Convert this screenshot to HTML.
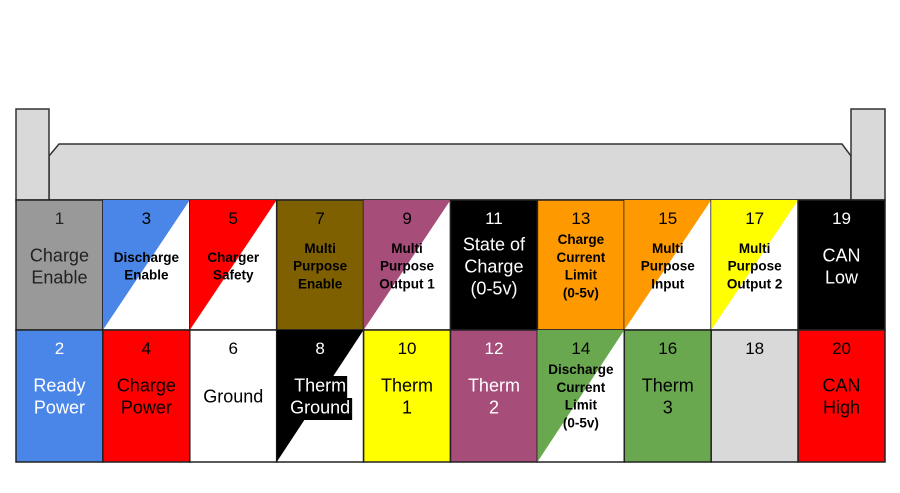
<!DOCTYPE html>
<html><head><meta charset="utf-8"><style>
body{margin:0;background:#fff;width:900px;height:493px;overflow:hidden}
svg{display:block;font-family:"Liberation Sans",Arial,sans-serif}
</style></head><body>
<svg id="s" width="900" height="493" viewBox="0 0 900 493">
<g>
<polygon points="49,156 59,144 842,144 851,156 851,200 49,200" fill="#d9d9d9" stroke="#333" stroke-width="1.5"/>
<rect x="16" y="109" width="33" height="91" fill="#d9d9d9" stroke="#333" stroke-width="1.5"/>
<rect x="851" y="109" width="34" height="91" fill="#d9d9d9" stroke="#333" stroke-width="1.5"/>
</g>
<g id="cells"></g>
</svg>
<script>
const pins=[1,3,5,7,9,11,13,15,17,19,2,4,6,8,10,12,14,16,18,20];
const colors=["#999999","#4a86e8","#ff0000","#7f6000","#a64d79","#000000","#ff9900","#ff9900","#ffff00","#000000",
"#4a86e8","#ff0000","#ffffff","#000000","#ffff00","#a64d79","#6aa84f","#6aa84f","#d9d9d9","#ff0000"];
const split=[0,1,1,0,1,0,0,1,1,0, 0,0,0,1,0,0,1,0,0,0];
const labels=[["Charge","Enable"],["Discharge","Enable"],["Charger","Safety"],["Multi","Purpose","Enable"],["Multi","Purpose","Output 1"],["State of","Charge","(0-5v)"],["Charge","Current","Limit","(0-5v)"],["Multi","Purpose","Input"],["Multi","Purpose","Output 2"],["CAN","Low"],
["Ready","Power"],["Charge","Power"],["Ground"],["Therm","Ground"],["Therm","1"],["Therm","2"],["Discharge","Current","Limit","(0-5v)"],["Therm","3"],[],["CAN","High"]];
const bold=[0,1,1,1,1,0,1,1,1,0, 0,0,0,0,0,0,1,0,0,0];
const textColors=["#222","#000","#000","#000","#000","#fff","#000","#000","#000","#fff",
"#fff","#000","#000","#fff","#000","#fff","#000","#000","#000","#000"];
const numColors=["#222","#000","#000","#000","#000","#fff","#000","#000","#000","#fff",
"#fff","#000","#000","#fff","#000","#fff","#000","#000","#000","#000"];
const NS="http://www.w3.org/2000/svg",g=document.getElementById('cells');
const X0=16,W=86.9,Y0=200,H=[130,132];
function mk(t,a){const e=document.createElementNS(NS,t);for(const k in a)e.setAttribute(k,a[k]);return e;}
pins.forEach((p,i)=>{
 const c=i%10,r=Math.floor(i/10),x=X0+c*W,y=r?Y0+130:Y0,h=H[r];
 const grp=mk('g',{});
 
 
 grp.appendChild(mk('rect',{x:x,y:y,width:W,height:h,fill:split[i]?'#fff':colors[i],stroke:'#222','stroke-width':1.5}));
 if(split[i]) grp.appendChild(mk('polygon',{points:`${x},${y} ${x+W},${y} ${x},${y+h}`,fill:colors[i]}));
 const n=mk('text',{x:x+W/2,y:y+24,'text-anchor':'middle','font-size':17,fill:numColors[i]});
 n.textContent=p;grp.appendChild(n);
 const L=labels[i],fs=bold[i]?13.5:18,lh=bold[i]?17.8:22;
 const cy=y+66;
 const sy=cy-(L.length-1)*lh/2+fs*0.35;
 L.forEach((s,j)=>{
  if(p===8){const tw=s.length*10;grp.appendChild(mk('rect',{x:x+W/2-tw/2-2,y:sy+j*lh-fs*0.85,width:tw+4,height:lh,fill:'#000'}));}
  const t=mk('text',{x:x+W/2,y:sy+j*lh,'text-anchor':'middle','font-size':fs,'font-weight':bold[i]?'bold':'normal',fill:textColors[i]});
  t.textContent=s;grp.appendChild(t);
 });
 g.appendChild(grp);
});
</script>
</body></html>
